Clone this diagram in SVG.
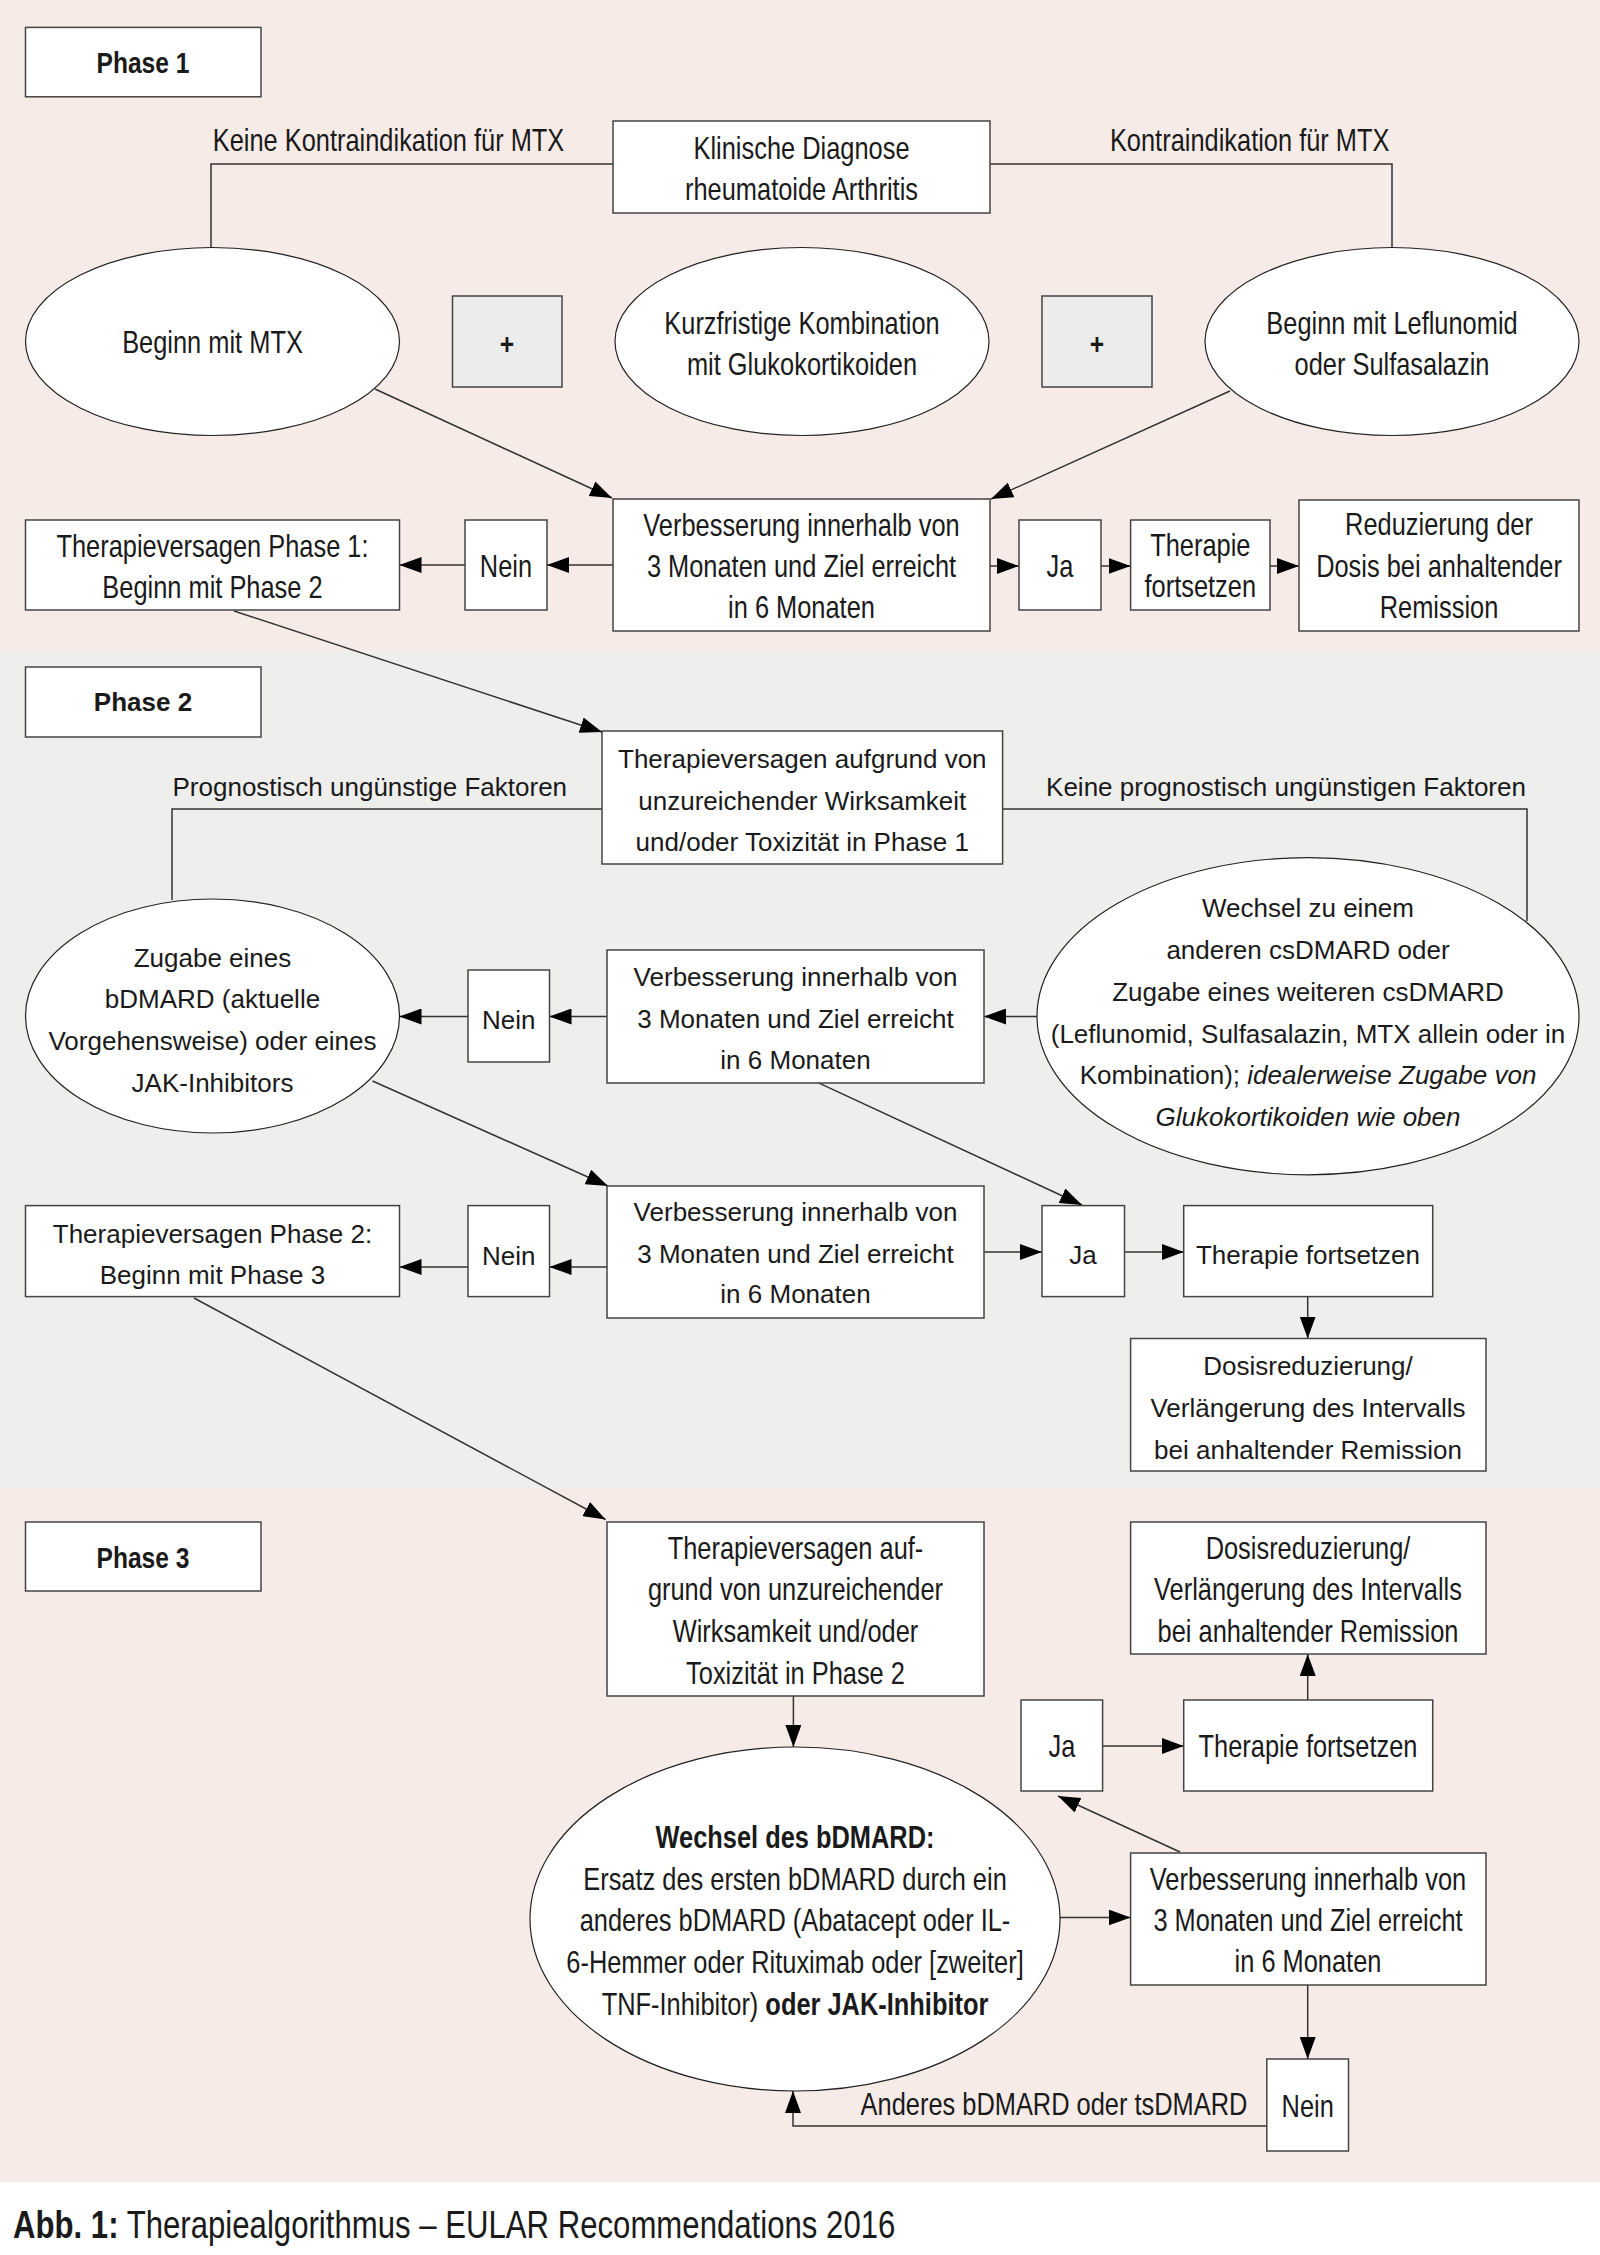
<svg xmlns="http://www.w3.org/2000/svg" width="1600" height="2255" viewBox="0 0 1600 2255">
<defs>
<marker id="ah" viewBox="0 0 22 16" refX="22" refY="8" markerWidth="22" markerHeight="16" markerUnits="userSpaceOnUse" orient="auto"><path d="M0,0 L22,8 L0,16 z" fill="#000"/></marker>
</defs>
<style>
.box{fill:#fff;stroke:#444;stroke-width:1.5}
.plus{fill:#ebeceb;stroke:#444;stroke-width:1.5}
.ell{fill:#fff;stroke:#222;stroke-width:1.2}
.n{font-family:"Liberation Sans",Arial,sans-serif;font-size:31px;fill:#1a1a1a;text-anchor:middle;transform:scaleX(0.82);transform-box:fill-box;transform-origin:50% 50%}
.r{font-family:"Liberation Sans",Arial,sans-serif;font-size:26px;fill:#1a1a1a;text-anchor:middle}
.cap{font-family:"Liberation Sans",Arial,sans-serif;font-size:38px;fill:#1a1a1a;transform:scaleX(0.82);transform-box:fill-box;transform-origin:0% 50%}
.b{font-weight:bold}
.i{font-style:italic}
.c{fill:none;stroke:#333;stroke-width:1.5}
.a{marker-end:url(#ah)}
</style>
<rect x="0" y="0" width="1600" height="650" fill="#f7ebe7"/>
<rect x="0" y="650" width="1600" height="838" fill="#eeeeed"/>
<rect x="0" y="1488" width="1600" height="694" fill="#f7ebe7"/>
<rect x="0" y="2182" width="1600" height="73" fill="#ffffff"/>

<g id="connectors">
<polyline class="c" points="613,164 211,164 211,248"/>
<polyline class="c" points="990,164 1392,164 1392,248"/>
<text class="n" x="388.5" y="151.5">Keine Kontraindikation für MTX</text>
<text class="n" x="1249.7" y="151.5">Kontraindikation für MTX</text>
<line class="c a" x1="375" y1="389" x2="612" y2="498"/>
<line class="c a" x1="1230" y1="391" x2="991" y2="499"/>
<line class="c a" x1="613" y1="565" x2="547" y2="565"/>
<line class="c a" x1="465" y1="565" x2="399.5" y2="565"/>
<line class="c a" x1="990" y1="566" x2="1019" y2="566"/>
<line class="c a" x1="1101" y1="566" x2="1130.6" y2="566"/>
<line class="c a" x1="1270" y1="566" x2="1299" y2="566"/>
<line class="c a" x1="234" y1="611" x2="602" y2="732"/>
<polyline class="c" points="602,809 172,809 172,900"/>
<polyline class="c" points="1002.6,809 1527,809 1527,921"/>
<text class="r" x="369.8" y="796">Prognostisch ungünstige Faktoren</text>
<text class="r" x="1286" y="796">Keine prognostisch ungünstigen Faktoren</text>
<line class="c a" x1="1037" y1="1016.5" x2="984" y2="1016.5"/>
<line class="c a" x1="607" y1="1016.5" x2="549.5" y2="1016.5"/>
<line class="c a" x1="468" y1="1016.5" x2="399.5" y2="1016.5"/>
<line class="c a" x1="818" y1="1082.6" x2="1082" y2="1205"/>
<line class="c a" x1="372.5" y1="1081" x2="608" y2="1186"/>
<line class="c a" x1="607" y1="1267" x2="549.5" y2="1267"/>
<line class="c a" x1="468" y1="1267" x2="399.5" y2="1267"/>
<line class="c a" x1="984" y1="1252" x2="1042" y2="1252"/>
<line class="c a" x1="1124.5" y1="1252" x2="1183.7" y2="1252"/>
<line class="c a" x1="1307.7" y1="1296.7" x2="1307.7" y2="1338.5"/>
<line class="c a" x1="194" y1="1298" x2="605.6" y2="1519.5"/>
<line class="c a" x1="793.4" y1="1696" x2="793.4" y2="1747"/>
<line class="c a" x1="1307.7" y1="1700" x2="1307.7" y2="1654"/>
<line class="c a" x1="1102.6" y1="1746" x2="1183.7" y2="1746"/>
<line class="c a" x1="1180" y1="1852" x2="1058" y2="1796"/>
<line class="c a" x1="1060" y1="1917.5" x2="1130.6" y2="1917.5"/>
<line class="c a" x1="1307.7" y1="1985" x2="1307.7" y2="2059"/>
<polyline class="c a" points="1266.8,2126 793,2126 793,2091"/>
<text class="n" x="1054" y="2115">Anderes bDMARD oder tsDMARD</text>
</g>

<g id="phase1-label"><rect class="box" x="25.5" y="27.4" width="235.5" height="69.4"/><text class="n b" x="143" y="73" style="font-size:30px">Phase 1</text></g>
<g id="diagnose"><rect class="box" x="613" y="121" width="377" height="92"/><text class="n" x="801.5" y="159">Klinische Diagnose</text><text class="n" x="801.5" y="200">rheumatoide Arthritis</text></g>
<g id="mtx"><ellipse class="ell" cx="212.5" cy="341.5" rx="187" ry="94"/><text class="n" x="212.5" y="353">Beginn mit MTX</text></g>
<g id="plus1"><rect class="plus" x="452.5" y="296" width="109.5" height="91"/><text class="n b" x="507" y="354" style="font-size:30px">+</text></g>
<g id="kurz"><ellipse class="ell" cx="802" cy="341.5" rx="187" ry="94"/><text class="n" x="802" y="334">Kurzfristige Kombination</text><text class="n" x="802" y="375">mit Glukokortikoiden</text></g>
<g id="plus2"><rect class="plus" x="1042" y="296" width="110" height="91"/><text class="n b" x="1097" y="354" style="font-size:30px">+</text></g>
<g id="leflunomid"><ellipse class="ell" cx="1392" cy="341.5" rx="187" ry="94"/><text class="n" x="1392" y="334">Beginn mit Leflunomid</text><text class="n" x="1392" y="375">oder Sulfasalazin</text></g>
<g id="verb1"><rect class="box" x="613" y="499" width="377" height="132"/><text class="n" x="801.5" y="536.5">Verbesserung innerhalb von</text><text class="n" x="801.5" y="577.5">3 Monaten und Ziel erreicht</text><text class="n" x="801.5" y="618.5">in 6 Monaten</text></g>
<g id="nein1"><rect class="box" x="465" y="520" width="82" height="90"/><text class="n" x="506" y="577.5">Nein</text></g>
<g id="tv1"><rect class="box" x="25.5" y="520" width="374" height="90"/><text class="n" x="212.5" y="557">Therapieversagen Phase 1:</text><text class="n" x="212.5" y="598">Beginn mit Phase 2</text></g>
<g id="ja1"><rect class="box" x="1019" y="520" width="82" height="90"/><text class="n" x="1060" y="577.5">Ja</text></g>
<g id="tf1"><rect class="box" x="1130.6" y="520" width="139.4" height="90"/><text class="n" x="1200.3" y="556.5">Therapie</text><text class="n" x="1200.3" y="597.5">fortsetzen</text></g>
<g id="red1"><rect class="box" x="1299" y="500" width="280" height="131"/><text class="n" x="1439" y="535.5">Reduzierung der</text><text class="n" x="1439" y="577">Dosis bei anhaltender</text><text class="n" x="1439" y="618.5">Remission</text></g>

<g id="phase2-label"><rect class="box" x="25.5" y="667" width="235.5" height="70"/><text class="r b" x="143" y="711">Phase 2</text></g>
<g id="tv-aufgrund"><rect class="box" x="602" y="731" width="400.6" height="133"/><text class="r" x="802.3" y="768">Therapieversagen aufgrund von</text><text class="r" x="802.3" y="809.5">unzureichender Wirksamkeit</text><text class="r" x="802.3" y="851">und/oder Toxizität in Phase 1</text></g>
<g id="zugabe"><ellipse class="ell" cx="212.5" cy="1016" rx="187" ry="117"/><text class="r" x="212.5" y="967">Zugabe eines</text><text class="r" x="212.5" y="1008">bDMARD (aktuelle</text><text class="r" x="212.5" y="1050">Vorgehensweise) oder eines</text><text class="r" x="212.5" y="1092">JAK-Inhibitors</text></g>
<g id="nein2a"><rect class="box" x="468" y="970" width="81.5" height="92"/><text class="r" x="508.7" y="1029">Nein</text></g>
<g id="verb2"><rect class="box" x="607" y="950" width="377" height="133"/><text class="r" x="795.5" y="986">Verbesserung innerhalb von</text><text class="r" x="795.5" y="1028">3 Monaten und Ziel erreicht</text><text class="r" x="795.5" y="1069">in 6 Monaten</text></g>
<g id="wechsel-cs"><ellipse class="ell" cx="1308" cy="1016.2" rx="271" ry="158.6"/><text class="r" x="1308" y="917">Wechsel zu einem</text><text class="r" x="1308" y="959">anderen csDMARD oder</text><text class="r" x="1308" y="1001">Zugabe eines weiteren csDMARD</text><text class="r" x="1308" y="1042.5">(Leflunomid, Sulfasalazin, MTX allein oder in</text><text class="r" x="1308" y="1084">Kombination); <tspan class="i">idealerweise Zugabe von</tspan></text><text class="r i" x="1308" y="1125.5">Glukokortikoiden wie oben</text></g>
<g id="verb3"><rect class="box" x="607" y="1186" width="377" height="132"/><text class="r" x="795.5" y="1221">Verbesserung innerhalb von</text><text class="r" x="795.5" y="1262.6">3 Monaten und Ziel erreicht</text><text class="r" x="795.5" y="1303">in 6 Monaten</text></g>
<g id="nein2b"><rect class="box" x="468" y="1205.6" width="81.5" height="91"/><text class="r" x="508.7" y="1265">Nein</text></g>
<g id="tv2"><rect class="box" x="25.5" y="1205.6" width="374" height="91"/><text class="r" x="212.5" y="1242.5">Therapieversagen Phase 2:</text><text class="r" x="212.5" y="1284">Beginn mit Phase 3</text></g>
<g id="ja2"><rect class="box" x="1042" y="1205.6" width="82.5" height="91"/><text class="r" x="1083" y="1264">Ja</text></g>
<g id="tf2"><rect class="box" x="1183.7" y="1205.6" width="249" height="91"/><text class="r" x="1308" y="1264">Therapie fortsetzen</text></g>
<g id="dosis2"><rect class="box" x="1130.6" y="1338.5" width="355.4" height="132.5"/><text class="r" x="1308" y="1375">Dosisreduzierung/</text><text class="r" x="1308" y="1417">Verlängerung des Intervalls</text><text class="r" x="1308" y="1459">bei anhaltender Remission</text></g>

<g id="phase3-label"><rect class="box" x="25.5" y="1522" width="235.5" height="69"/><text class="n b" x="143" y="1568" style="font-size:30px">Phase 3</text></g>
<g id="tv-auf"><rect class="box" x="607" y="1522" width="377" height="174"/><text class="n" x="795.5" y="1559">Therapieversagen auf-</text><text class="n" x="795.5" y="1600">grund von unzureichender</text><text class="n" x="795.5" y="1642">Wirksamkeit und/oder</text><text class="n" x="795.5" y="1683.6">Toxizität in Phase 2</text></g>
<g id="wechsel-bd"><ellipse class="ell" cx="795" cy="1919" rx="265" ry="172"/><text class="n b" x="795" y="1848">Wechsel des bDMARD:</text><text class="n" x="795" y="1890">Ersatz des ersten bDMARD durch ein</text><text class="n" x="795" y="1931">anderes bDMARD (Abatacept oder IL-</text><text class="n" x="795" y="1973">6-Hemmer oder Rituximab oder [zweiter]</text><text class="n" x="795" y="2015">TNF-Inhibitor) <tspan class="b">oder JAK-Inhibitor</tspan></text></g>
<g id="dosis3"><rect class="box" x="1130.6" y="1522" width="355.4" height="132"/><text class="n" x="1308" y="1559">Dosisreduzierung/</text><text class="n" x="1308" y="1600">Verlängerung des Intervalls</text><text class="n" x="1308" y="1641.6">bei anhaltender Remission</text></g>
<g id="ja3"><rect class="box" x="1021" y="1700" width="81.6" height="91"/><text class="n" x="1062" y="1757">Ja</text></g>
<g id="tf3"><rect class="box" x="1183.7" y="1700" width="249" height="91"/><text class="n" x="1308" y="1757">Therapie fortsetzen</text></g>
<g id="verb4"><rect class="box" x="1130.6" y="1853" width="355.4" height="132"/><text class="n" x="1308" y="1890">Verbesserung innerhalb von</text><text class="n" x="1308" y="1931">3 Monaten und Ziel erreicht</text><text class="n" x="1308" y="1972">in 6 Monaten</text></g>
<g id="nein3"><rect class="box" x="1266.8" y="2059" width="81.7" height="92"/><text class="n" x="1307.7" y="2117">Nein</text></g>

<text class="cap" x="13" y="2238"><tspan font-weight="bold">Abb. 1:</tspan> Therapiealgorithmus – EULAR Recommendations 2016</text>
</svg>
